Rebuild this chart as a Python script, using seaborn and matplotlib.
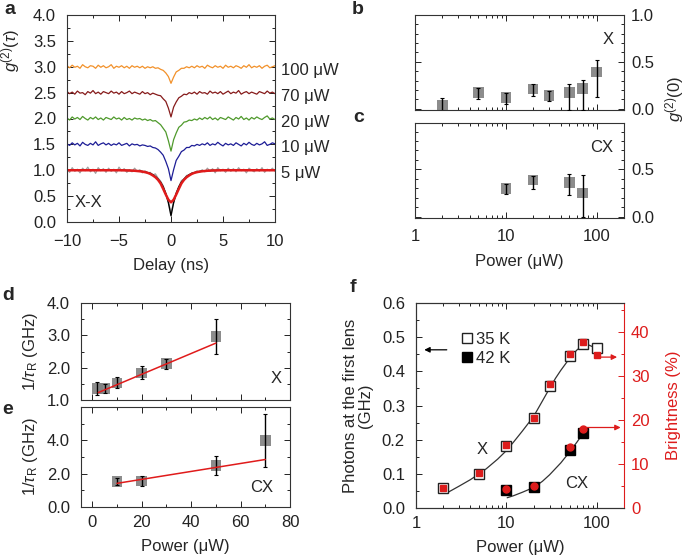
import numpy as np
import matplotlib
matplotlib.use("Agg")
import matplotlib.pyplot as plt
import seaborn as sns
from matplotlib.lines import Line2D
from matplotlib.ticker import MultipleLocator, FixedLocator, FixedFormatter, LogLocator, NullFormatter

# ---------------- panel a: g2(tau) traces ----------------
delay = np.linspace(-10, 10, 81)
g2_5uW = [1.03, 0.96, 1.05, 0.98, 1.02, 0.95, 1.04, 0.99, 1.06,
          0.97, 1.02, 0.94, 1.05, 0.99, 1.03, 0.96, 1.04, 0.98,
          1.02, 0.95, 1.06, 0.99, 1.03, 0.96, 1.01, 0.97, 1.04,
          0.98, 1.01, 0.95, 0.99, 0.94, 0.96, 0.91, 0.93, 0.85,
          0.79, 0.70, 0.55, 0.40, 0.18, 0.38, 0.57, 0.68, 0.80,
          0.83, 0.90, 0.91, 0.95, 0.94, 0.99, 0.96, 1.01, 0.97,
          1.04, 0.98, 1.03, 0.95, 1.05, 0.99, 1.02, 0.96, 1.04,
          0.98, 1.03, 0.97, 1.05, 0.99, 1.02, 0.95, 1.04, 1.00,
          0.97, 1.03, 0.98, 1.05, 0.96, 1.02, 0.99, 1.04, 0.98]
g2_10uW = [1.51, 1.48, 1.53, 1.49, 1.52, 1.47, 1.54, 1.50, 1.48,
           1.52, 1.49, 1.55, 1.48, 1.51, 1.53, 1.49, 1.52, 1.48,
           1.51, 1.49, 1.53, 1.48, 1.50, 1.52, 1.47, 1.51, 1.49,
           1.50, 1.47, 1.49, 1.48, 1.46, 1.47, 1.44, 1.43, 1.40,
           1.35, 1.29, 1.17, 1.03, 0.80, 1.01, 1.19, 1.27, 1.36,
           1.39, 1.44, 1.44, 1.48, 1.47, 1.50, 1.48, 1.51, 1.49,
           1.53, 1.48, 1.51, 1.49, 1.54, 1.50, 1.47, 1.52, 1.49,
           1.51, 1.48, 1.53, 1.50, 1.47, 1.52, 1.49, 1.54, 1.50,
           1.48, 1.52, 1.49, 1.51, 1.55, 1.48, 1.50, 1.53, 1.51]
g2_20uW = [2.01, 1.97, 2.03, 1.99, 2.02, 1.98, 2.04, 2.00, 1.97,
           2.02, 1.99, 2.03, 1.98, 2.01, 1.97, 2.02, 2.00, 1.98,
           2.03, 1.99, 2.01, 1.97, 2.02, 1.98, 2.00, 1.97, 2.01,
           1.99, 2.00, 1.97, 1.99, 1.96, 1.98, 1.95, 1.96, 1.92,
           1.88, 1.81, 1.74, 1.57, 1.37, 1.59, 1.72, 1.83, 1.87,
           1.93, 1.94, 1.97, 1.96, 1.99, 1.97, 2.01, 1.98, 2.02,
           1.99, 2.03, 1.98, 2.01, 1.97, 2.02, 2.00, 1.98, 2.03,
           2.00, 1.97, 2.02, 1.99, 2.04, 1.98, 2.01, 1.97, 2.02,
           1.99, 2.03, 2.00, 1.98, 2.02, 2.05, 1.99, 2.01, 1.98]
g2_70uW = [2.52, 2.48, 2.51, 2.47, 2.53, 2.49, 2.50, 2.46, 2.52,
           2.49, 2.54, 2.48, 2.51, 2.47, 2.52, 2.50, 2.48, 2.53,
           2.49, 2.51, 2.47, 2.52, 2.48, 2.50, 2.53, 2.48, 2.51,
           2.49, 2.47, 2.52, 2.48, 2.50, 2.46, 2.49, 2.47, 2.45,
           2.44, 2.38, 2.33, 2.20, 2.03, 2.22, 2.32, 2.40, 2.43,
           2.47, 2.46, 2.50, 2.48, 2.51, 2.47, 2.52, 2.49, 2.50,
           2.47, 2.53, 2.49, 2.51, 2.48, 2.52, 2.47, 2.50, 2.53,
           2.48, 2.51, 2.49, 2.54, 2.47, 2.50, 2.52, 2.48, 2.51,
           2.49, 2.47, 2.52, 2.50, 2.48, 2.53, 2.49, 2.51, 2.48]
g2_100uW = [3.02, 2.98, 3.03, 2.99, 3.01, 2.97, 3.04, 3.00, 2.98,
            3.02, 3.01, 2.97, 3.03, 2.99, 3.02, 2.98, 3.00, 3.04,
            2.97, 3.01, 2.99, 3.02, 2.98, 3.01, 2.97, 3.02, 2.99,
            3.01, 2.98, 3.01, 2.97, 3.00, 2.98, 3.00, 2.97, 2.98,
            2.95, 2.93, 2.88, 2.81, 2.68, 2.80, 2.90, 2.93, 2.97,
            2.97, 3.00, 2.98, 3.01, 2.98, 3.02, 2.99, 3.01, 2.97,
            3.03, 3.00, 2.98, 3.02, 2.99, 3.01, 2.97, 3.03, 2.99,
            3.01, 2.98, 3.02, 3.00, 2.97, 3.02, 2.99, 3.04, 2.98,
            3.01, 2.99, 3.02, 2.97, 3.01, 3.03, 2.98, 3.00, 3.02]

fit_delay = [-10, -5, -4.5, -4, -3.5, -3, -2.75, -2.5, -2.25, -2, -1.75, -1.5,
             -1.25, -1, -0.75, -0.5, -0.25, 0, 0.25, 0.5, 0.75, 1, 1.25, 1.5,
             1.75, 2, 2.25, 2.5, 2.75, 3, 3.5, 4, 4.5, 5, 10]
fit_raw = [1.0, 0.999, 0.998, 0.996, 0.992, 0.984, 0.978, 0.968, 0.956, 0.94, 0.915, 0.88,
           0.83, 0.77, 0.68, 0.55, 0.37, 0.12, 0.37, 0.55, 0.68, 0.77, 0.83, 0.88,
           0.915, 0.94, 0.956, 0.968, 0.978, 0.984, 0.992, 0.996, 0.998, 0.999, 1.0]
fit_conv = [1.0, 1.0, 0.998, 0.995, 0.99, 0.98, 0.973, 0.963, 0.95, 0.93, 0.90, 0.865,
            0.815, 0.745, 0.64, 0.53, 0.43, 0.38, 0.43, 0.53, 0.64, 0.745, 0.815, 0.865,
            0.90, 0.93, 0.95, 0.963, 0.973, 0.98, 0.99, 0.995, 0.998, 1.0, 1.0]

trace_labels = ["5 μW", "10 μW", "20 μW", "70 μW", "100 μW"]
trace_levels = [1.0, 1.5, 2.0, 2.5, 3.0]
trace_colors = ["#a0a0a0", "#1d1d96", "#4f9a2c", "#861b1b", "#f2912a"]

# ---------------- panels b, c: g2(0) ----------------
power_x = [2, 5, 10, 20, 30, 50, 70, 100]
g2zero_x = [0.04, 0.17, 0.12, 0.21, 0.14, 0.17, 0.215, 0.39]
g2zero_x_lo = [0.07, 0.07, 0.07, 0.08, 0.06, 0.18, 0.23, 0.27]
g2zero_x_hi = [0.07, 0.05, 0.05, 0.05, 0.05, 0.095, 0.09, 0.13]

power_cx = [10, 20, 50, 70]
g2zero_cx = [0.30, 0.385, 0.36, 0.25]
g2zero_cx_lo = [0.06, 0.095, 0.13, 0.25]
g2zero_cx_hi = [0.04, 0.045, 0.09, 0.19]

# ---------------- panels d, e: 1/tau_R ----------------
power_d = [2, 5, 10, 20, 30, 50]
rate_x = [1.36, 1.35, 1.53, 1.84, 2.12, 2.97]
rate_x_err = [0.2, 0.14, 0.17, 0.2, 0.16, 0.55]
rate_x_fit_p = [2.4, 50]
rate_x_fit = [1.23, 2.76]

power_e = [10, 20, 50, 70]
rate_cx = [1.53, 1.55, 2.5, 4.0]
rate_cx_err = [0.2, 0.3, 0.58, 1.6]
rate_cx_fit_p = [10, 70]
rate_cx_fit = [1.42, 2.85]

# ---------------- panel f: photons / brightness ----------------
photons_x = [0.06, 0.10, 0.181, 0.263, 0.358, 0.444, 0.481, 0.468]
bright_x = [4.6, 8.0, 14.3, 20.5, 28.3, 34.9, 37.7, 34.7]
photons_cx = [0.052, 0.061, 0.169, 0.219]
bright_cx = [4.25, 4.9, 13.9, 18.0]
curve_x_p = [2.3, 3, 4, 5, 6, 7, 8, 10, 12, 15, 20, 25, 30, 35, 40, 50, 60, 70, 80, 90, 100]
curve_x = [0.047, 0.064, 0.083, 0.100, 0.115, 0.130, 0.143, 0.168, 0.193, 0.225, 0.268,
           0.313, 0.350, 0.380, 0.403, 0.438, 0.462, 0.476, 0.478, 0.472, 0.462]
curve_cx_p = [10.2, 12, 15, 20, 25, 30, 40, 50, 60, 70]
curve_cx = [0.030, 0.036, 0.046, 0.060, 0.078, 0.097, 0.132, 0.164, 0.192, 0.217]

# ---------------- style ----------------
sns.set_theme(style="ticks")
plt.rcParams["font.family"] = ["Liberation Sans", "DejaVu Sans"]
plt.rcParams["mathtext.fontset"] = "custom"
plt.rcParams["mathtext.rm"] = "Liberation Sans"
plt.rcParams["mathtext.it"] = "Liberation Sans:italic"
plt.rcParams["font.size"] = 12
plt.rcParams["axes.linewidth"] = 0.8
plt.rcParams["axes.edgecolor"] = "#333333"

W, H = 685, 556
fig = plt.figure(figsize=(W / 100, H / 100), dpi=100)


def box(l, t, r, b):
    return [l / W, 1 - b / H, (r - l) / W, (b - t) / H]


TS = 12
FS = 12


def style(ax, xpad=4, ypad=4):
    ax.tick_params(which="both", direction="in", top=True, right=True,
                   labelsize=TS, colors="#222222", width=0.7)
    ax.tick_params(axis="x", pad=xpad)
    ax.tick_params(axis="y", pad=ypad)
    ax.tick_params(which="major", length=4)
    ax.tick_params(which="minor", length=2)


GREY = "#808080"
RED = "#dd1c1c"

# ---- a ----
ax = fig.add_axes(box(67, 15, 275, 222))
series = [g2_5uW, g2_10uW, g2_20uW, g2_70uW, g2_100uW]
for vals, col in zip(series, trace_colors):
    sns.lineplot(x=delay, y=vals, ax=ax, color=col, lw=0.9, estimator=None)
sns.lineplot(x=fit_delay, y=fit_raw, ax=ax, color="black", lw=1.0, estimator=None)
sns.lineplot(x=fit_delay, y=fit_conv, ax=ax, color="#e01b1b", lw=1.8, estimator=None)
for lab, lev in zip(trace_labels, trace_levels):
    ax.text(10.6, lev - 0.07, lab, fontsize=12, va="center", ha="left", clip_on=False)
ax.text(-9.3, 0.37, "X-X", fontsize=12, va="center")
ax.set_xlim(-10, 10)
ax.set_ylim(0, 4)
ax.xaxis.set_major_locator(FixedLocator([-10, -5, 0, 5, 10]))
ax.xaxis.set_major_formatter(FixedFormatter(["\u221210", "\u22125", "0", "5", "10"]))
ax.xaxis.set_minor_locator(MultipleLocator(2.5))
ax.yaxis.set_major_locator(MultipleLocator(0.5))
ax.yaxis.set_minor_locator(MultipleLocator(0.25))
ax.yaxis.set_major_formatter(matplotlib.ticker.FormatStrFormatter("%.1f"))
style(ax, xpad=9, ypad=8)
ax.set_xlabel("Delay (ns)", fontsize=FS, labelpad=6)
ax.set_ylabel(r"$g^{(2)}(\tau)$", fontsize=FS)
ax.yaxis.set_label_coords(-0.215, 0.83)

# ---- b / c ----
for rect, pw, val, lo, hi, lab, ylim, yt in [
        (box(415, 15, 624, 110), power_x, g2zero_x, g2zero_x_lo, g2zero_x_hi, "X",
         (-0.015, 1.0), [0.0, 0.5, 1.0]),
        (box(415, 123, 624, 218), power_cx, g2zero_cx, g2zero_cx_lo, g2zero_cx_hi, "CX",
         (-0.015, 0.99), [0.0, 0.5])]:
    ax = fig.add_axes(rect)
    sns.scatterplot(x=pw, y=val, ax=ax, marker="s", s=58, color=GREY, edgecolor="none",
                    alpha=0.9, zorder=2)
    ax.errorbar(pw, val, yerr=[lo, hi], fmt="none", ecolor="black", elinewidth=1,
                capsize=1.5, capthick=0.8, zorder=3)
    ax.set_xscale("log")
    ax.set_xlim(1, 200)
    ax.set_ylim(*ylim)
    ax.yaxis.set_major_locator(FixedLocator(yt))
    ax.yaxis.set_major_formatter(matplotlib.ticker.FormatStrFormatter("%.1f"))
    ax.yaxis.set_minor_locator(MultipleLocator(0.1))
    ax.xaxis.set_major_locator(FixedLocator([1, 10, 100]))
    ax.xaxis.set_major_formatter(FixedFormatter(["1", "10", "100"]))
    ax.xaxis.set_minor_locator(LogLocator(base=10, subs=np.arange(2, 10)))
    ax.xaxis.set_minor_formatter(NullFormatter())
    style(ax, xpad=8, ypad=5)
    ax.tick_params(labelleft=False, labelright=True)
    ax.text(0.95, 0.74, lab, transform=ax.transAxes, ha="right", va="center", fontsize=12)
    if lab == "X":
        ax.tick_params(labelbottom=False)
    else:
        ax.set_xlabel("Power (μW)", fontsize=FS, labelpad=7)
fig.text(675 / W, 1 - 99 / H, r"$g^{(2)}(0)$", rotation=90, ha="center", va="center",
         fontsize=FS)

# ---- d / e ----
for rect, pw, val, err, fp, fv, lab, ylim, ymaj, ymin, lx, ly in [
        (box(81, 303, 290, 400), power_d, rate_x, rate_x_err, rate_x_fit_p, rate_x_fit, "X",
         (1.0, 4.0), 1.0, 0.5, 0.96, 0.22),
        (box(81, 407, 290, 507), power_e, rate_cx, rate_cx_err, rate_cx_fit_p, rate_cx_fit, "CX",
         (0.0, 6.0), 2.0, 1.0, 0.92, 0.2)]:
    ax = fig.add_axes(rect)
    sns.scatterplot(x=pw, y=val, ax=ax, marker="s", s=58, color=GREY, edgecolor="none",
                    alpha=0.9, zorder=2)
    ax.errorbar(pw, val, yerr=err, fmt="none", ecolor="black", elinewidth=1,
                capsize=1.5, capthick=0.8, zorder=3)
    sns.lineplot(x=fp, y=fv, ax=ax, color="#e01b1b", lw=1.1, estimator=None, zorder=4)
    ax.set_xlim(-4.6, 80)
    ax.set_ylim(*ylim)
    ax.xaxis.set_major_locator(MultipleLocator(20))
    ax.xaxis.set_minor_locator(MultipleLocator(10))
    ax.yaxis.set_major_locator(MultipleLocator(ymaj))
    ax.yaxis.set_minor_locator(MultipleLocator(ymin))
    ax.yaxis.set_major_formatter(matplotlib.ticker.FormatStrFormatter("%.1f"))
    if lab == "CX":
        ax.set_yticks([0.0, 2.0, 4.0])
    style(ax, xpad=6, ypad=8)
    ax.set_ylabel(r"1/$\tau_\mathrm{R}$ (GHz)", fontsize=FS, labelpad=5)
    ax.text(lx, ly, lab, transform=ax.transAxes, ha="right", va="center", fontsize=12)
    if lab == "X":
        ax.tick_params(labelbottom=False)
    else:
        ax.set_xlabel("Power (μW)", fontsize=FS, labelpad=6)

# ---- f ----
ax = fig.add_axes(box(416, 303, 624, 508))
ax2 = ax.twinx()
sns.lineplot(x=curve_x_p, y=curve_x, ax=ax, color="#333333", lw=0.9, estimator=None)
sns.lineplot(x=curve_cx_p, y=curve_cx, ax=ax, color="#333333", lw=0.9, estimator=None)
ax.plot(power_x, photons_x, ls="none", marker="s", ms=7.5, mfc="white", mec="#222222", mew=1.0)
ax.plot(power_cx, photons_cx, ls="none", marker="s", ms=7.5, mfc="black", mec="black")
ax2.plot(power_x, bright_x, ls="none", marker="s", ms=4, color=RED)
ax2.plot(power_cx, bright_cx, ls="none", marker="o", ms=5, color=RED)
ax.set_xscale("log")
ax.set_xlim(1, 200)
ax.set_ylim(0, 0.6)
ax2.set_ylim(0, 46.6)
ax.xaxis.set_major_locator(FixedLocator([1, 10, 100]))
ax.xaxis.set_major_formatter(FixedFormatter(["1", "10", "100"]))
ax.xaxis.set_minor_locator(LogLocator(base=10, subs=np.arange(2, 10)))
ax.xaxis.set_minor_formatter(NullFormatter())
ax.yaxis.set_major_locator(MultipleLocator(0.1))
ax.yaxis.set_minor_locator(MultipleLocator(0.05))
ax.yaxis.set_major_formatter(matplotlib.ticker.FormatStrFormatter("%.1f"))
ax2.yaxis.set_major_locator(MultipleLocator(10))
ax2.yaxis.set_minor_locator(MultipleLocator(5))
style(ax, xpad=6, ypad=8)
ax.tick_params(which="both", right=False)
ax2.tick_params(which="both", direction="in", colors=RED, labelsize=TS, width=0.7, pad=5)
ax2.tick_params(which="major", length=4)
ax2.tick_params(which="minor", length=2)
ax2.spines["right"].set_color(RED)
ax.spines["right"].set_visible(False)
ax.set_xlabel("Power (μW)", fontsize=FS, labelpad=6)
ax.set_ylabel("Photons at the first lens\n(GHz)", fontsize=FS, labelpad=6, linespacing=1.0)
ax2.set_ylabel("Brightness (%)", fontsize=FS, color=RED, labelpad=12)
ax.text(5.4, 0.172, "X", fontsize=12, ha="center", va="center")
ax.text(60, 0.071, "CX", fontsize=12, ha="center", va="center")
ax.annotate("", xy=(1.15, 0.463), xytext=(2.35, 0.463),
            arrowprops=dict(arrowstyle="-|>", color="black", lw=0.9, mutation_scale=8))
ax2.annotate("", xy=(180, 34.3), xytext=(100, 34.3),
             arrowprops=dict(arrowstyle="-|>", color=RED, lw=0.9, mutation_scale=8))
ax2.annotate("", xy=(197, 18.3), xytext=(70, 18.3),
             arrowprops=dict(arrowstyle="-|>", color=RED, lw=0.9, mutation_scale=8))
handles = [Line2D([], [], ls="none", marker="s", ms=7.5, mfc="white", mec="#222222"),
           Line2D([], [], ls="none", marker="s", ms=7.5, mfc="black", mec="black")]
ax.legend(handles, ["35 K", "42 K"], loc="center left", bbox_to_anchor=(0.175, 0.775),
          frameon=False, fontsize=12, handlelength=0.7, handletextpad=0.2,
          labelspacing=0.25, borderpad=0)

# panel letters
for letter, px, py in [("a", 10, 10), ("b", 358, 10), ("c", 359, 118),
                       ("d", 8, 296), ("e", 8, 409), ("f", 353, 288)]:
    fig.text(px / W, 1 - py / H, letter, fontsize=14, fontweight="bold",
             ha="center", va="center")

fig.savefig("out.png", dpi=100)
